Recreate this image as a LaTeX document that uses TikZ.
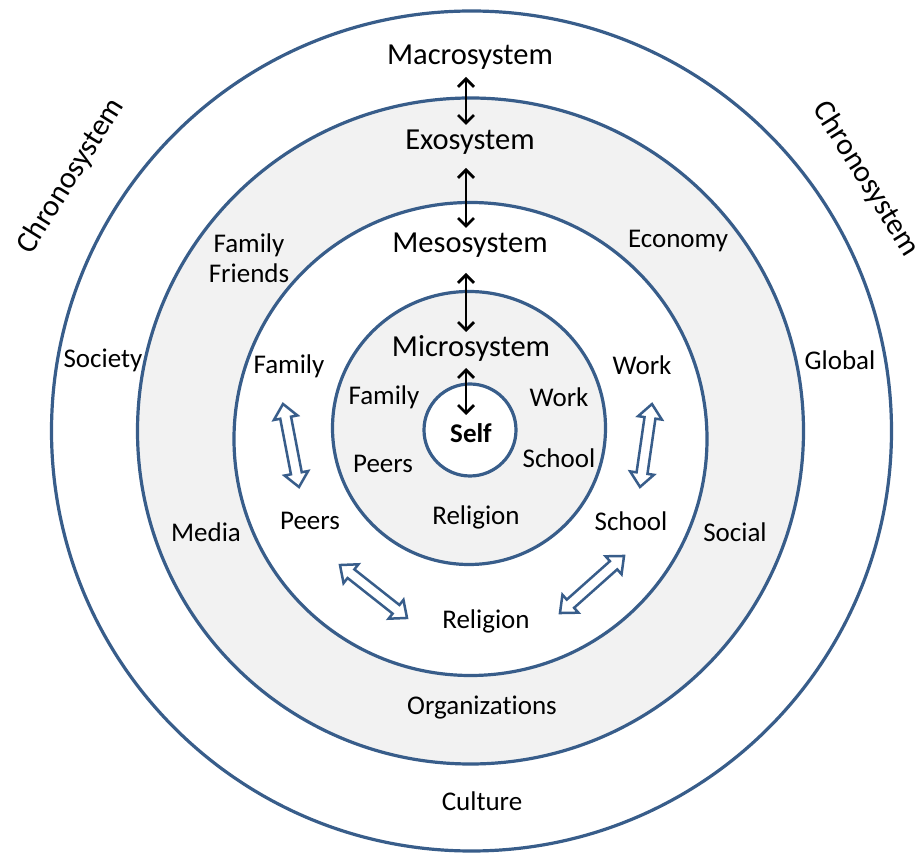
\documentclass[tikz,border=0pt]{standalone}
\usepackage{fontspec}
\setmainfont{Carlito}[Ligatures={NoCommon}]
\usetikzlibrary{arrows.meta}
\definecolor{ringblue}{HTML}{385D8A}
\definecolor{ringgrey}{HTML}{F2F2F2}
\tikzset{
  ring/.style={draw=ringblue, line width=3.2pt},
  sysl/.style={font=\fontsize{30.5}{36}\selectfont, inner sep=0pt},
  lbl/.style={font=\fontsize{27}{30}\selectfont, inner sep=0pt, align=center},
  blkarrow/.style={line width=2.8pt, {Straight Barb[length=8pt,width=16pt]}-{Straight Barb[length=8pt,width=16pt]}},
  harrowline/.style={draw=ringblue, fill=white, line width=2.5pt, line join=miter},
  pics/harrow/.style={code={
    \draw[harrowline] (-#1,0) -- (-#1+14,12) -- (-#1+14,5.5) -- (#1-14,5.5) -- (#1-14,12)
      -- (#1,0) -- (#1-14,-12) -- (#1-14,-5.5) -- (-#1+14,-5.5) -- (-#1+14,-12) -- cycle;
  }}
}
\begin{document}
\begin{tikzpicture}[x=1pt,y=1pt]
\useasboundingbox (0,0) rectangle (924,852);
\fill[white] (0,0) rectangle (924,852);
% rings
\draw[ring, fill=white] (471.5,421) circle[radius=420];
\draw[ring, fill=ringgrey] (470.5,421) circle[radius=333];
\draw[ring, fill=white] (470.5,413) circle[radius=236.5];
\draw[ring, fill=ringgrey] (469,424) circle[radius=136.5];
\draw[ring, fill=white] (470,422) circle[radius=46];
% system labels
\node[sysl] (macro) at (470,795) {Macrosystem};
\node[sysl] (exo) at (470,710) {Exosystem};
\node[sysl] (meso) at (470,607) {Mesosystem};
\node[sysl] (micro) at (471,504) {Microsystem};
\node[lbl, font=\fontsize{27}{30}\selectfont\bfseries] (self) at (471,419) {Self};
\node[sysl, rotate=58] (chronoL) at (71,676) {Chronosystem};
\node[sysl, rotate=-58] (chronoR) at (866,673) {Chronosystem};
% micro labels
\node[lbl] (mifam) at (384,455) {Family};
\node[lbl] (miwork) at (559,455) {Work};
\node[lbl] (mipeers) at (383,388) {Peers};
\node[lbl] (mischool) at (559,394) {School};
\node[lbl] (mirel) at (476,335) {Religion};
% meso labels
\node[lbl] (mefam) at (289,486) {Family};
\node[lbl] (mework) at (642,487) {Work};
\node[lbl] (mepeers) at (310,331) {Peers};
\node[lbl] (meschool) at (631,331) {School};
\node[lbl] (merel) at (486,231) {Religion};
% exo labels
\node[lbl] (exofam) at (249,594) {Family\\Friends};
\node[lbl] (economy) at (678,611) {Economy};
\node[lbl] (media) at (206,320) {Media};
\node[lbl] (social) at (735,320) {Social};
\node[lbl] (orgs) at (482,144) {Organizations};
% macro labels
\node[lbl] (society) at (103,492) {Society};
\node[lbl] (global) at (840,492) {Global};
\node[lbl] (culture) at (482,51) {Culture};
% black double arrows
\coordinate (a1t) at (466,775); \coordinate (a1b) at (466,727);
\coordinate (a2t) at (466,684); \coordinate (a2b) at (466,624);
\coordinate (a3t) at (466,579); \coordinate (a3b) at (466,520);
\coordinate (a4t) at (466,484); \coordinate (a4b) at (466,437);
\draw[blkarrow] (a1t) -- (a1b);
\draw[blkarrow] (a2t) -- (a2b);
\draw[blkarrow] (a3t) -- (a3b);
\draw[blkarrow] (a4t) -- (a4b);
% hollow double arrows
\pic[rotate=-79.1] (hl) at (291,406.5) {harrow=42.3};
\pic[rotate=81.8] (hr) at (646,406.5) {harrow=41.9};
\pic[rotate=-38.3] (hbl) at (373.5,260.5) {harrow=42.7};
\pic[rotate=41.7] (hbr) at (592,267.5) {harrow=42.9};
\end{tikzpicture}
\end{document}
